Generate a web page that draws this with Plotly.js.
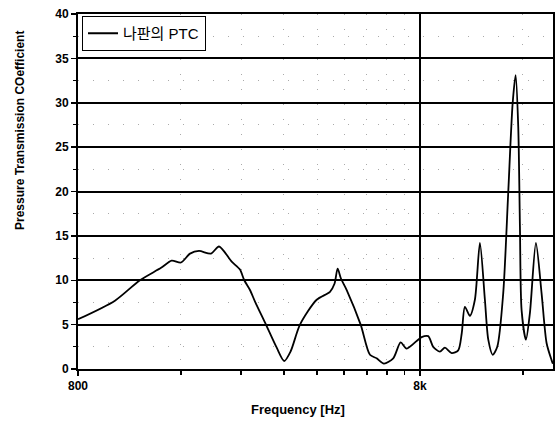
<!DOCTYPE html>
<html>
<head>
<meta charset="utf-8">
<script src="https://cdn.plot.ly/plotly-3.0.1.min.js"></script>
<style>html,body{margin:0;padding:0;background:#fff;}#chart{width:557px;height:425px;}</style>
</head>
<body>
<div id="chart"></div>
<script>
// Frequency (Hz) and pressure transmission coefficient
const freqHz = [800, 1026, 1214, 1400, 1503, 1601, 1701, 1807, 1959, 2068, 2252, 2381, 2451, 2547, 2635,
  2837, 3050, 3208, 3350, 3567, 3991, 4365, 4500, 4596, 4700, 4886, 5367, 5714, 5977, 6278, 6683,
  7026, 7315, 8092, 8460, 8748, 9152, 9464, 9904, 10353, 10600, 10830, 11200, 11583, 11980, 12391,
  12675, 13056, 13466, 14016, 14496, 14935, 15240, 15510, 15688, 15866, 16336, 16777, 17469,
  18153, 18776, 19414, 19582];
const ptc = [5.6, 7.7, 10.0, 11.4, 12.2, 12.0, 13.0, 13.3, 13.0, 13.8, 12.1, 11.2, 10.0, 8.9, 7.6,
  5.0, 2.4, 0.9, 2.0, 5.0, 7.8, 8.7, 9.6, 11.3, 10.2, 8.9, 5.0, 1.6, 1.2, 0.6, 1.2,
  3.0, 2.3, 3.6, 3.7, 2.5, 1.95, 2.4, 1.8, 2.1, 4.0, 7.0, 6.0, 7.8, 14.2, 7.8,
  3.3, 1.6, 2.5, 8.5, 19.8, 29.9, 33.1, 27.3, 16.0, 6.6, 3.3, 6.3, 14.2,
  8.5, 2.9, 1.0, 0.6];
const xTickVals = [800, 8000];
const xTickText = ['800', '8k'];
const xMinorVals = [1600, 2400, 3200, 4000, 4800, 5600, 6400, 7200, 16000];
const seriesName = '나판의 PTC';

const arialBold = 'Arial, "Liberation Sans", "Noto Sans CJK KR", sans-serif';

Plotly.newPlot('chart', [{
  x: freqHz, y: ptc, type: 'scatter', mode: 'lines', name: seriesName,
  line: {color: '#000', width: 1.8, shape: 'spline', smoothing: 0.75}
}], {
  width: 557, height: 425,
  margin: {l: 78, r: 4, t: 14, b: 56},
  paper_bgcolor: '#fff', plot_bgcolor: '#fff',
  showlegend: true,
  legend: {x: 0.008, y: 0.995, xanchor: 'left', yanchor: 'top',
    bgcolor: '#fff', bordercolor: '#000', borderwidth: 1.2,
    font: {family: 'Arial, "Liberation Sans", "Noto Sans CJK KR", sans-serif', size: 15, color: '#000'},
    itemwidth: 30, tracegroupgap: 0},
  xaxis: {
    type: 'log', range: [Math.log10(800), Math.log10(19600)],
    tickmode: 'array', tickvals: xTickVals, ticktext: xTickText,
    ticks: 'outside', ticklen: 5, tickwidth: 1.5, tickcolor: '#000',
    tickfont: {family: arialBold, size: 12, color: '#000', weight: 'bold'},
    showgrid: true, gridcolor: '#000', gridwidth: 1.5,
    showline: true, linecolor: '#000', linewidth: 2, mirror: true,
    zeroline: false,
    minor: {tickmode: 'array', tickvals: xMinorVals, ticks: 'outside', ticklen: 4, tickwidth: 1.5, tickcolor: '#000',
      showgrid: true, gridcolor: '#aaa', gridwidth: 1, griddash: '1px,14px'}
  },
  yaxis: {
    range: [0, 40], dtick: 5, tick0: 0,
    ticks: 'outside', ticklen: 5, tickwidth: 1.5, tickcolor: '#000',
    tickfont: {family: arialBold, size: 12, color: '#000', weight: 'bold'},
    showgrid: true, gridcolor: '#000', gridwidth: 2,
    showline: true, linecolor: '#000', linewidth: 2, mirror: true,
    zeroline: false,
    minor: {dtick: 2.5, ticks: 'outside', ticklen: 3, tickwidth: 1, tickcolor: '#000',
      showgrid: true, gridcolor: '#aaa', gridwidth: 1, griddash: '1px,14px'}
  },
  annotations: [
    {text: 'Frequency [Hz]', xref: 'paper', yref: 'paper', x: (298 - 78) / 475, y: -(409 - 369) / 355,
      xanchor: 'center', yanchor: 'middle', showarrow: false,
      font: {family: arialBold, size: 13, color: '#000', weight: 'bold'}},
    {text: 'Pressure Transmission COefficient', xref: 'paper', yref: 'paper', x: -(78 - 20) / 475, y: (369 - 131) / 355,
      xanchor: 'center', yanchor: 'middle', textangle: -90, showarrow: false,
      font: {family: arialBold, size: 12, color: '#000', weight: 'bold'}}
  ]
}, {staticPlot: true, displayModeBar: false});
</script>
</body>
</html>
